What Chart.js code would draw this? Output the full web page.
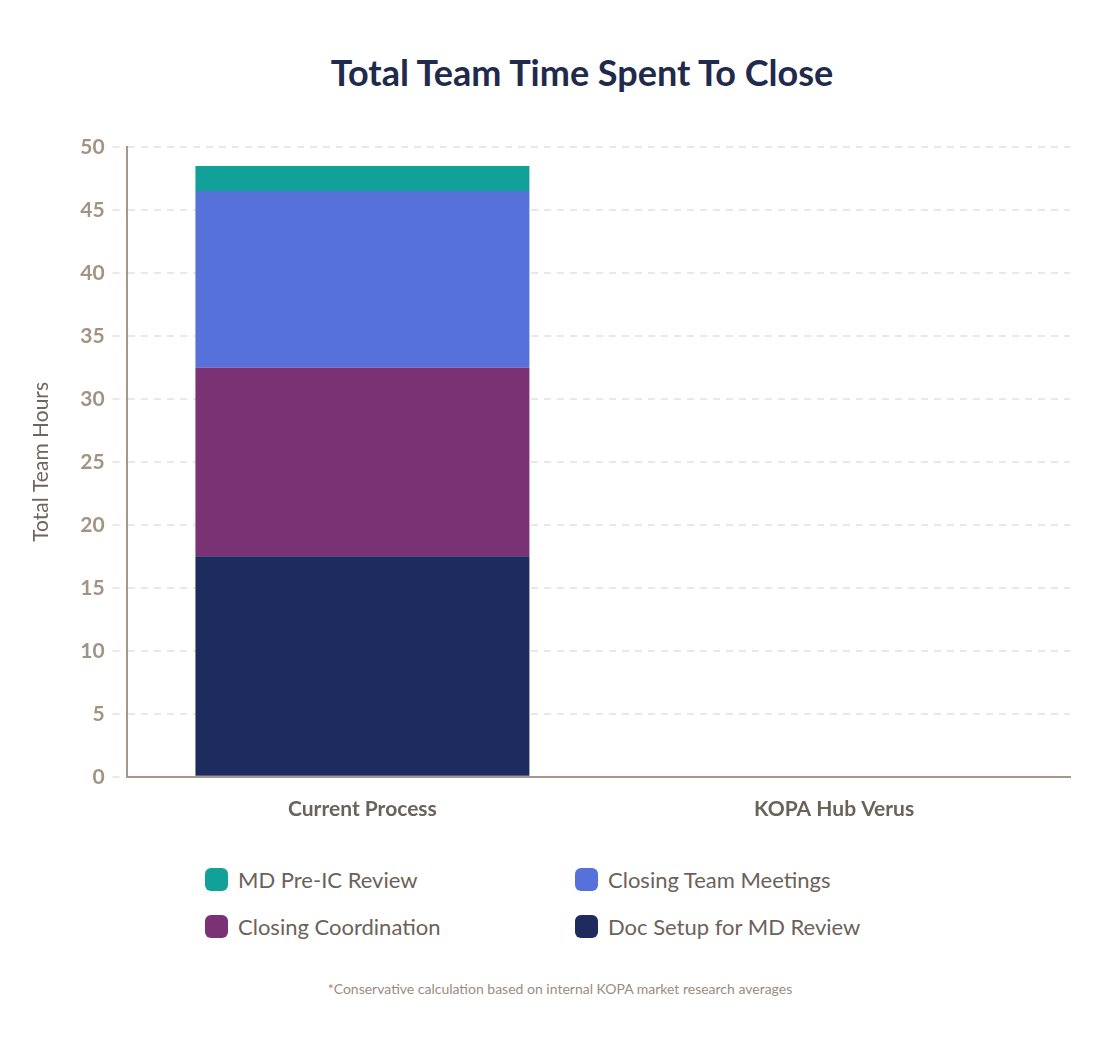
<!DOCTYPE html>
<html lang="en">
<head>
    <meta charset="UTF-8">
    <title>Total Team Time Spent To Close</title>
    <script src="https://cdn.jsdelivr.net/npm/chart.js"></script>
    <style>
        body {
            margin: 0;
            width: 1120px;
            height: 1042px;
            background: #fff;
            font-family: 'Lato', sans-serif;
            position: relative;
            overflow: hidden;
        }

        h1 {
            position: absolute;
            top: 50px;
            left: 44px;
            right: 0;
            margin: 0;
            line-height: 44px;
            text-align: center;
            font-size: 36px;
            font-weight: 700;
            color: #1f2a4c;
        }

        .chart-box {
            position: absolute;
            top: 0;
            left: 0;
            width: 1120px;
            height: 852px;
        }

        #legend {
            position: absolute;
            top: 862px;
            left: 205px;
            display: grid;
            grid-template-columns: 370px 370px;
            row-gap: 12px;
        }

        .legend-item {
            display: flex;
            align-items: center;
            height: 35px;
            font-size: 22px;
            color: #6b6259;
        }

        .legend-box {
            width: 23px;
            height: 23px;
            border-radius: 6px;
            margin-right: 10px;
        }

        footer {
            position: absolute;
            top: 980px;
            left: 0;
            width: 1120px;
            text-align: center;
            font-size: 14px;
            color: #9a8c80;
        }
    </style>
</head>
<body>
    <h1>Total Team Time Spent To Close</h1>

    <div class="chart-box">
        <canvas id="timeChart"></canvas>
    </div>

    <div id="legend"></div>

    <footer>*Conservative calculation based on internal KOPA market research averages</footer>

    <script>
        const categories = ['Current Process', 'KOPA Hub Verus'];
        const yTicks = [0, 5, 10, 15, 20, 25, 30, 35, 40, 45, 50];

        // stacked bottom to top
        const docSetup = [17.5, 0];
        const closingCoordination = [15, 0];
        const closingMeetings = [14, 0];
        const mdReview = [2, 0];

        const taupe = '#a39382';
        const gridColor = '#ebe7e2';

        const ctx = document.getElementById('timeChart').getContext('2d');
        const timeChart = new Chart(ctx, {
            type: 'bar',
            data: {
                labels: categories,
                datasets: [
                    { label: 'Doc Setup for MD Review', data: docSetup, backgroundColor: '#1e2b5e' },
                    { label: 'Closing Coordination', data: closingCoordination, backgroundColor: '#7a3274' },
                    { label: 'Closing Team Meetings', data: closingMeetings, backgroundColor: '#5671d9' },
                    { label: 'MD Pre-IC Review', data: mdReview, backgroundColor: '#12a198' }
                ]
            },
            options: {
                responsive: true,
                maintainAspectRatio: false,
                animation: false,
                datasets: {
                    bar: {
                        categoryPercentage: 1,
                        barPercentage: 0.708,
                        borderWidth: 0
                    }
                },
                layout: {
                    padding: { left: 29, right: 50, top: 147, bottom: 10 }
                },
                plugins: {
                    legend: { display: false },
                    tooltip: { enabled: false }
                },
                scales: {
                    x: {
                        stacked: true,
                        grid: { display: false, drawTicks: false },
                        border: { display: true, color: '#a5978a', width: 2 },
                        ticks: {
                            padding: 20,
                            color: '#6b6259',
                            font: { family: 'Lato', size: 21, weight: 'bold' }
                        }
                    },
                    y: {
                        stacked: true,
                        min: 0,
                        max: 50,
                        afterBuildTicks: axis => {
                            axis.ticks = yTicks.map(v => ({ value: v }));
                        },
                        grid: {
                            color: gridColor,
                            lineWidth: 2,
                            tickLength: 14,
                            tickColor: gridColor,
                            tickBorderDash: [7, 6]
                        },
                        // in v4 border.dash dashes the grid lines, the axis line stays solid
                        border: { color: '#a5978a', width: 2, dash: [7, 6] },
                        ticks: {
                            padding: 8,
                            color: taupe,
                            font: { family: 'Lato', size: 21, weight: 'bold' }
                        },
                        title: {
                            display: true,
                            text: 'Total Team Hours',
                            color: '#6e655c',
                            padding: { top: 0, bottom: 18 },
                            font: { family: 'Lato', size: 21 }
                        }
                    }
                }
            }
        });

        // legend in two columns, top of the stack first
        const legendEl = document.getElementById('legend');
        const legendOrder = [3, 2, 1, 0];
        legendOrder.forEach(i => {
            const ds = timeChart.data.datasets[i];
            const item = document.createElement('div');
            item.className = 'legend-item';
            item.innerHTML = '<span class="legend-box" style="background:' + ds.backgroundColor + '"></span>' + ds.label;
            legendEl.appendChild(item);
        });
    </script>
</body>
</html>
